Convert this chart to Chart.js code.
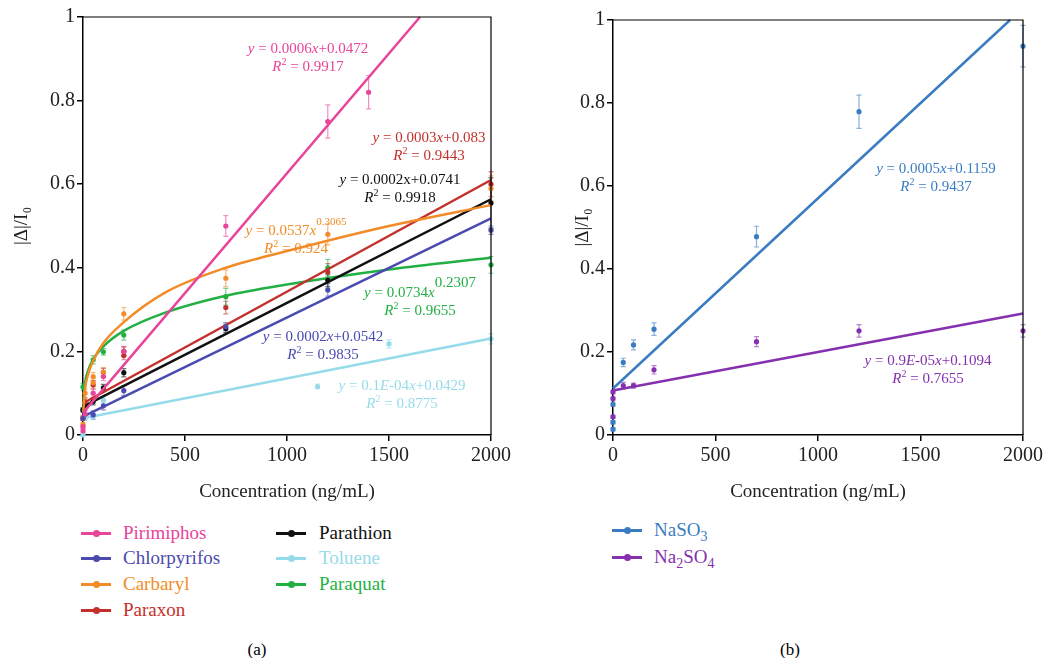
<!DOCTYPE html>
<html>
<head>
<meta charset="utf-8">
<script src="https://cdn.jsdelivr.net/npm/chart.js@4.4.0/dist/chart.umd.min.js"></script>
<style>
  body { margin: 0; background: #fff; width: 1043px; height: 658px; overflow: hidden; position: relative; font-family: 'Liberation Serif', 'Times New Roman', serif; }
  canvas { position: absolute; top: 0; }
  #chartA { left: 0; }
  #chartB { left: 530px; }
  .eq { position: absolute; font-size: 15px; line-height: 18px; text-align: center; transform: translateX(-50%); white-space: nowrap; }
  .eq sup { font-size: 10px; line-height: 0; }
  .lg { position: absolute; font-size: 19px; line-height: 20px; white-space: nowrap; }
  .lg .ln { position: absolute; height: 3px; width: 30px; top: 9px; }
  .lg .dot { position: absolute; width: 7px; height: 7px; border-radius: 50%; top: 7px; left: 12px; }
  .lg .tx { position: absolute; top: 0; }
  .lg sub { font-size: 14px; line-height: 0; }
  .cap { position: absolute; font-size: 17px; transform: translateX(-50%); top: 640px; }
</style>
</head>
<body>
<canvas id="chartA" width="530" height="507"></canvas>
<canvas id="chartB" width="513" height="507"></canvas>

<script>
// ---- panel (a) ----
const pirimiphosX = [0, 0, 10, 50, 100, 200, 700, 1200, 1400];
const pirimiphosY = [0.01, 0.02, 0.05, 0.10, 0.14, 0.20, 0.50, 0.75, 0.82];
const pirimiphosErr = [0.005, 0.005, 0.008, 0.01, 0.01, 0.012, 0.025, 0.04, 0.04];
const pirimiphosFitX = [0, 1652];
const pirimiphosFitY = [0.053, 1.0];

const chlorpyrifosX = [0, 10, 50, 100, 200, 700, 1200, 2000];
const chlorpyrifosY = [0.04, 0.05, 0.048, 0.07, 0.106, 0.259, 0.347, 0.49];
const chlorpyrifosErr = [0.005, 0.008, 0.01, 0.01, 0.012, 0.01, 0.015, 0.01];
const chlorpyrifosFitX = [0, 2000];
const chlorpyrifosFitY = [0.044, 0.518];

const carbarylX = [0, 0, 10, 50, 50, 100, 200, 700, 1200, 2000];
const carbarylY = [0.025, 0.04, 0.10, 0.14, 0.125, 0.15, 0.29, 0.375, 0.48, 0.59];
const carbarylErr = [0.005, 0.005, 0.01, 0.01, 0.01, 0.01, 0.015, 0.02, 0.025, 0.03];
const carbarylFitX = [1, 10, 25, 50, 100, 200, 400, 700, 1000, 1500, 2000];
const carbarylFitY = [0.054, 0.11, 0.145, 0.178, 0.22, 0.27, 0.34, 0.40, 0.44, 0.50, 0.55];

const paraxonX = [0, 10, 50, 100, 200, 200, 700, 1200, 2000];
const paraxonY = [0.04, 0.08, 0.12, 0.15, 0.19, 0.20, 0.305, 0.39, 0.60];
const paraxonErr = [0.005, 0.008, 0.01, 0.01, 0.01, 0.01, 0.015, 0.02, 0.03];
const paraxonFitX = [0, 2000];
const paraxonFitY = [0.076, 0.61];

const parathionX = [0, 10, 50, 100, 200, 700, 1200, 2000];
const parathionY = [0.06, 0.07, 0.08, 0.113, 0.149, 0.255, 0.37, 0.555];
const parathionErr = [0.005, 0.005, 0.008, 0.008, 0.01, 0.01, 0.015, 0.06];
const parathionFitX = [0, 2000];
const parathionFitY = [0.068, 0.564];

const tolueneX = [0, 10, 50, 100, 1150, 1500, 2000];
const tolueneY = [0.0, 0.04, 0.045, 0.084, 0.116, 0.218, 0.23];
const tolueneErr = [0.004, 0.005, 0.008, 0.008, 0.006, 0.01, 0.012];
const tolueneFitX = [0, 2000];
const tolueneFitY = [0.04, 0.231];

const paraquatX = [0, 0, 50, 100, 200, 700, 1200, 2000];
const paraquatY = [0.06, 0.115, 0.18, 0.199, 0.239, 0.331, 0.40, 0.407];
const paraquatErr = [0.005, 0.008, 0.01, 0.008, 0.012, 0.02, 0.02, 0.02];
const paraquatFitX = [1, 10, 25, 50, 100, 200, 400, 700, 1000, 1500, 2000];
const paraquatFitY = [0.073, 0.125, 0.154, 0.181, 0.212, 0.249, 0.292, 0.333, 0.36, 0.396, 0.424];

// ---- panel (b) ----
const naso3X = [0, 0, 0, 50, 100, 200, 700, 1200, 2000];
const naso3Y = [0.014, 0.031, 0.074, 0.175, 0.217, 0.255, 0.478, 0.779, 0.937];
const naso3Err = [0.004, 0.004, 0.005, 0.01, 0.012, 0.015, 0.025, 0.04, 0.05];
const naso3FitX = [0, 1937];
const naso3FitY = [0.112, 1.0];

const na2so4X = [0, 0, 0, 50, 100, 200, 700, 1200, 2000];
const na2so4Y = [0.044, 0.088, 0.104, 0.119, 0.119, 0.157, 0.225, 0.251, 0.251];
const na2so4Err = [0.004, 0.004, 0.005, 0.008, 0.006, 0.01, 0.012, 0.015, 0.015];
const na2so4FitX = [0, 2000];
const na2so4FitY = [0.107, 0.293];

const xTicks = [0, 500, 1000, 1500, 2000];
const yTicks = [0, 0.2, 0.4, 0.6, 0.8, 1];

const FONT = "'Liberation Serif', 'Times New Roman', serif";

const seriesA = [
  { name: 'Pirimiphos', color: '#e8449a', x: pirimiphosX, y: pirimiphosY, err: pirimiphosErr, fx: pirimiphosFitX, fy: pirimiphosFitY },
  { name: 'Chlorpyrifos', color: '#4a4ab0', x: chlorpyrifosX, y: chlorpyrifosY, err: chlorpyrifosErr, fx: chlorpyrifosFitX, fy: chlorpyrifosFitY },
  { name: 'Carbaryl', color: '#f28c28', x: carbarylX, y: carbarylY, err: carbarylErr, fx: carbarylFitX, fy: carbarylFitY },
  { name: 'Paraxon', color: '#c4302b', x: paraxonX, y: paraxonY, err: paraxonErr, fx: paraxonFitX, fy: paraxonFitY },
  { name: 'Parathion', color: '#111111', x: parathionX, y: parathionY, err: parathionErr, fx: parathionFitX, fy: parathionFitY },
  { name: 'Toluene', color: '#96dbea', x: tolueneX, y: tolueneY, err: tolueneErr, fx: tolueneFitX, fy: tolueneFitY },
  { name: 'Paraquat', color: '#22b044', x: paraquatX, y: paraquatY, err: paraquatErr, fx: paraquatFitX, fy: paraquatFitY },
];

const seriesB = [
  { name: 'NaSO<sub>3</sub>', color: '#3a7cc2', x: naso3X, y: naso3Y, err: naso3Err, fx: naso3FitX, fy: naso3FitY },
  { name: 'Na<sub>2</sub>SO<sub>4</sub>', color: '#8530ae', x: na2so4X, y: na2so4Y, err: na2so4Err, fx: na2so4FitX, fy: na2so4FitY },
];

const toPoints = (xs, ys) => xs.map((v, i) => ({ x: v, y: ys[i] }));

const errorBars = {
  id: 'errorBars',
  beforeDatasetsDraw(chart) {
    const { ctx, scales: { x, y } } = chart;
    chart.data.datasets.forEach((ds) => {
      if (!ds.errors) return;
      ctx.save();
      ctx.strokeStyle = ds.borderColor;
      ctx.globalAlpha = 0.6;
      ctx.lineWidth = 1.2;
      ds.data.forEach((p, j) => {
        const px = x.getPixelForValue(p.x);
        const top = y.getPixelForValue(p.y + ds.errors[j]);
        const bot = y.getPixelForValue(p.y - ds.errors[j]);
        ctx.beginPath();
        ctx.moveTo(px, top); ctx.lineTo(px, bot);
        ctx.moveTo(px - 2.5, top); ctx.lineTo(px + 2.5, top);
        ctx.moveTo(px - 2.5, bot); ctx.lineTo(px + 2.5, bot);
        ctx.stroke();
      });
      ctx.restore();
    });
  }
};

const frameBox = {
  id: 'frameBox',
  afterDraw(chart) {
    const { ctx, chartArea: a } = chart;
    ctx.save();
    ctx.strokeStyle = '#000';
    ctx.lineWidth = 1.2;
    ctx.beginPath();
    ctx.moveTo(a.left, a.top);
    ctx.lineTo(a.right, a.top);
    ctx.lineTo(a.right, a.bottom);
    ctx.stroke();
    ctx.restore();
  }
};

function makeChart(id, series, padTop, padRight, yTitlePad) {
  const datasets = [];
  series.forEach((s) => {
    datasets.push({
      data: toPoints(s.fx, s.fy),
      showLine: true,
      borderColor: s.color,
      borderWidth: 2.5,
      pointRadius: 0,
      cubicInterpolationMode: 'monotone',
      clip: false,
    });
    datasets.push({
      data: toPoints(s.x, s.y),
      showLine: false,
      borderColor: s.color,
      backgroundColor: s.color,
      pointRadius: 2.6,
      pointBorderWidth: 0,
      errors: s.err,
      clip: false,
    });
  });

  return new Chart(document.getElementById(id), {
    type: 'scatter',
    data: { datasets },
    plugins: [errorBars, frameBox],
    options: {
      animation: false,
      responsive: false,
      devicePixelRatio: 1,
      layout: { padding: { top: padTop, right: padRight, left: 0, bottom: 0 } },
      plugins: { legend: { display: false }, tooltip: { enabled: false } },
      scales: {
        x: {
          type: 'linear', min: 0, max: 2000,
          afterBuildTicks: (s) => { s.ticks = xTicks.map(v => ({ value: v })); },
          ticks: { font: { family: FONT, size: 20 }, color: '#222', padding: 3, maxRotation: 0, callback: v => String(v) },
          grid: { display: true, drawOnChartArea: false, tickLength: 6, color: '#000', lineWidth: 1.5 },
          border: { color: '#000', width: 1.5 },
          title: { display: true, text: 'Concentration (ng/mL)', color: '#222', font: { family: FONT, size: 19 }, padding: { top: 4, bottom: 4 } },
          afterFit: (s) => { s.height = 72; s.paddingLeft = 0; s.paddingRight = 0; },
        },
        y: {
          type: 'linear', min: 0, max: 1,
          afterBuildTicks: (s) => { s.ticks = yTicks.map(v => ({ value: v })); },
          ticks: { font: { family: FONT, size: 20 }, color: '#222', padding: 2, callback: v => String(v) },
          grid: { display: true, drawOnChartArea: false, tickLength: 6, color: '#000', lineWidth: 1.5 },
          border: { color: '#000', width: 1.5 },
          title: { display: true, text: '|Δ|/I₀', color: '#222', font: { family: FONT, size: 19 }, padding: { top: yTitlePad, bottom: 0 } },
          afterFit: (s) => { s.width = 83; s.paddingTop = 0; s.paddingBottom = 0; },
        },
      },
    },
  });
}

makeChart('chartA', seriesA, 17, 39, 11);
makeChart('chartB', seriesB, 20, 20, 42);

// equation labels: [page centre x, first line centre y, colour, line1, line2]
const eqs = [
  [308, 48, '#e8449a', '<i>y</i> = 0.0006<i>x</i>+0.0472', '<i>R</i><sup>2</sup> = 0.9917'],
  [429, 137, '#c4302b', '<i>y</i> = 0.0003<i>x</i>+0.083', '<i>R</i><sup>2</sup> = 0.9443'],
  [400, 179, '#111111', '<i>y</i> = 0.0002x+0.0741', '<i>R</i><sup>2</sup> = 0.9918'],
  [296, 230, '#f28c28', '<i>y</i> = 0.0537<i>x</i><sup style="font-size:11px;position:relative;top:-4px">0.3065</sup>', '<i>R</i><sup>2</sup> = 0.924'],
  [420, 292, '#22b044', '<i>y</i> = 0.0734<i>x</i><sup style="font-size:15px;position:relative;top:-4px">0.2307</sup>', '<i>R</i><sup>2</sup> = 0.9655'],
  [323, 336, '#4a4ab0', '<i>y</i> = 0.0002<i>x</i>+0.0542', '<i>R</i><sup>2</sup> = 0.9835'],
  [402, 385, '#96dbea', '<i>y</i> = 0.1<i>E</i>-04<i>x</i>+0.0429', '<i>R</i><sup>2</sup> = 0.8775'],
  [936, 168, '#3a7cc2', '<i>y</i> = 0.0005<i>x</i>+0.1159', '<i>R</i><sup>2</sup> = 0.9437'],
  [928, 360, '#8530ae', '<i>y</i> = 0.9<i>E</i>-05<i>x</i>+0.1094', '<i>R</i><sup>2</sup> = 0.7655'],
];
eqs.forEach(([cx, cy, col, l1, l2]) => {
  const d = document.createElement('div');
  d.className = 'eq';
  d.style.left = cx + 'px';
  d.style.top = (cy - 9) + 'px';
  d.style.color = col;
  d.innerHTML = l1 + '<br>' + l2;
  document.body.appendChild(d);
});

// legends
function addLegend(s, lineX, textX, cy) {
  const d = document.createElement('div');
  d.className = 'lg';
  d.style.left = lineX + 'px';
  d.style.top = (cy - 10) + 'px';
  d.style.color = s.color;
  d.innerHTML = '<div class="ln" style="background:' + s.color + '"></div>' +
    '<div class="dot" style="background:' + s.color + '"></div>' +
    '<div class="tx" style="left:' + (textX - lineX) + 'px">' + s.name + '</div>';
  document.body.appendChild(d);
}
const legendRowsA = [533, 558, 584, 610];
seriesA.slice(0, 4).forEach((s, i) => addLegend(s, 81, 123, legendRowsA[i]));
seriesA.slice(4).forEach((s, i) => addLegend(s, 276, 319, legendRowsA[i]));
seriesB.forEach((s, i) => addLegend(s, 612, 654, [530, 557][i]));

['(a)', '(b)'].forEach((t, i) => {
  const d = document.createElement('div');
  d.className = 'cap';
  d.style.left = [257, 790][i] + 'px';
  d.textContent = t;
  document.body.appendChild(d);
});
</script>
</body>
</html>
